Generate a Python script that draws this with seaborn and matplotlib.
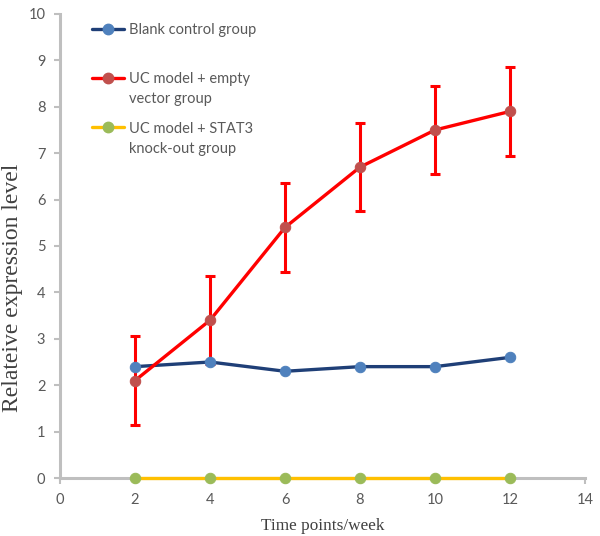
import matplotlib
matplotlib.use("Agg")
import matplotlib.pyplot as plt
import seaborn as sns
import pandas as pd
from matplotlib.lines import Line2D
from matplotlib.legend_handler import HandlerLine2D

weeks = [2, 4, 6, 8, 10, 12]
blank = [2.4, 2.5, 2.3, 2.4, 2.4, 2.6]
uc_empty = [2.1, 3.4, 5.4, 6.7, 7.5, 7.9]
uc_empty_err = [0.95, 0.95, 0.95, 0.95, 0.95, 0.95]
uc_stat3 = [0, 0, 0, 0, 0, 0]
labels = ["Blank control group\n", "UC model + empty\nvector group", "UC model + STAT3\nknock-out group"]
x_ticks = [0, 2, 4, 6, 8, 10, 12, 14]
y_ticks = list(range(0, 11))


class FirstLineHandler(HandlerLine2D):
    """Place the legend handle beside the first line of a two-line label."""
    def __init__(self, offset, **kw):
        super().__init__(**kw)
        self.offset = offset

    def create_artists(self, legend, orig_handle, xdescent, ydescent, width, height,
                       fontsize, trans):
        arts = super().create_artists(legend, orig_handle, xdescent, ydescent, width,
                                      height, fontsize, trans)
        for a in arts:
            a.set_ydata(a.get_ydata() + self.offset)
        return arts


sns.set_style("white")
plt.rcParams['font.family'] = ['Lato', 'DejaVu Sans']

fig = plt.figure(figsize=(6, 5.36), dpi=100)
ax = fig.add_axes([0.1, 0.1082, 0.875, 0.8657])

df = pd.DataFrame({"week": weeks, "blank": blank, "empty": uc_empty, "stat3": uc_stat3})

styles = [
    ("blank", "#1f3f77", "#4f81bd"),
    ("empty", "#ff0000", "#c0504d"),
    ("stat3", "#ffc000", "#9bbb59"),
]

ax.errorbar(weeks, uc_empty, yerr=uc_empty_err, fmt="none", ecolor="#ff0000",
            elinewidth=2.2, capsize=3.5, capthick=2.2, zorder=3)

handles = []
for col, lc, mc in styles:
    sns.lineplot(data=df, x="week", y=col, ax=ax, color=lc, linewidth=2.4,
                 marker="o", markersize=7.5, markerfacecolor=mc, markeredgecolor=mc,
                 clip_on=False, zorder=4)
    handles.append(Line2D([0], [0], color=lc, linewidth=2.4, marker="o",
                          markersize=7.5, markerfacecolor=mc, markeredgecolor=mc))

ax.set_xlim(0, 14)
ax.set_ylim(0, 10)
ax.set_xticks(x_ticks)
ax.set_yticks(y_ticks)

for s in ["top", "right"]:
    ax.spines[s].set_visible(False)
for s in ["left", "bottom"]:
    ax.spines[s].set_color("#bfbfbf")
    ax.spines[s].set_linewidth(2.2)
ax.tick_params(axis="both", colors="#bfbfbf", labelcolor="#595959",
               labelsize=10.5, length=4, width=1.5, direction="out", bottom=True, left=True)
ax.tick_params(axis="y", pad=6.5)
ax.tick_params(axis="x", pad=7)

ax.set_xlabel("Time points/week", family=["Liberation Serif"], fontsize=12.4, color="#404040", labelpad=8)
ax.set_ylabel("Relateive expression level", family=["Liberation Serif"], fontsize=17, color="#404040")
ax.yaxis.set_label_coords(-0.0705, 0.41)

handler = FirstLineHandler(offset=8.3)
leg = ax.legend(handles, labels, loc="upper left", bbox_to_anchor=(0.05, 0.993),
                frameon=False, fontsize=10.5, labelcolor="#595959",
                handlelength=2.2, handletextpad=0.34,
                labelspacing=1.04, borderaxespad=0.0,
                handler_map={h: handler for h in handles})
for t in leg.get_texts():
    t.set_linespacing(1.55)

fig.savefig("out.png", dpi=100)
